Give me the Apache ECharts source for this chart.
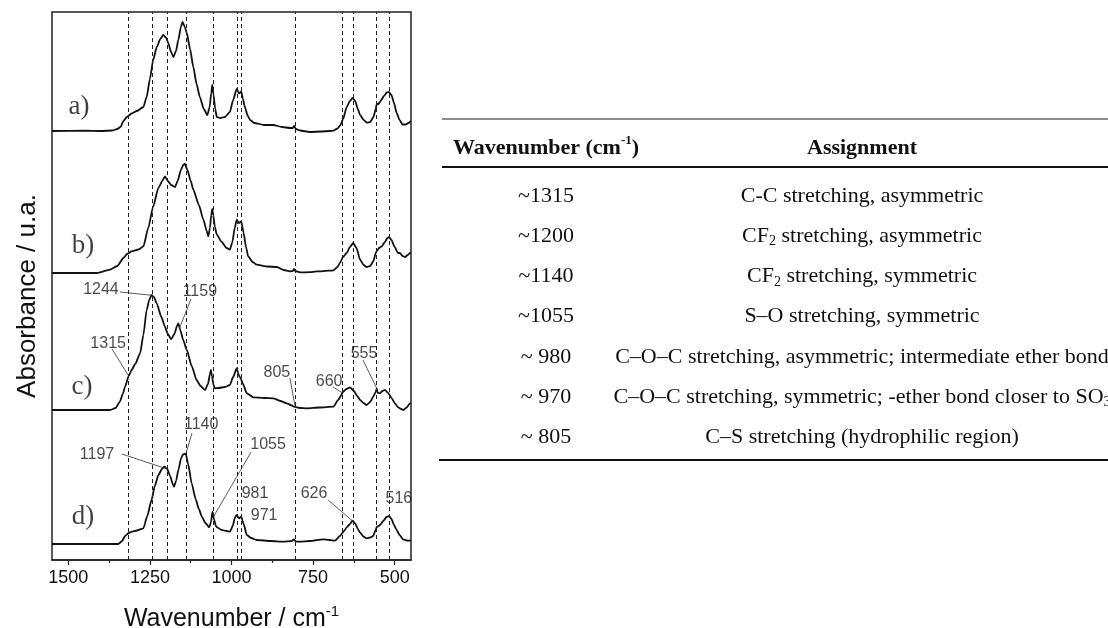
<!DOCTYPE html>
<html>
<head>
<meta charset="utf-8">
<script src="https://cdn.jsdelivr.net/npm/echarts@6/dist/echarts.min.js"></script>
<style>
  html, body { margin: 0; padding: 0; background: #fff; }
  #chart { width: 1108px; height: 628px; }
</style>
</head>
<body>
<div id="chart"></div>
<script>
// ---- FTIR spectra: [wavenumber (cm-1), absorbance above own baseline] ----
const specA = [[1550,0],[1450,0.3],[1400,0],[1365,0.5],[1350,2],[1340,4],[1331,10],[1321,14],[1306,17.5],[1290,20],[1270,24],[1260,34],[1250,52],[1240,71],[1229,84],[1218,92],[1209,96],[1200,93],[1194,88],[1185,79],[1178,74],[1170,80],[1163,91],[1155,104],[1150,109],[1143,104],[1137,98],[1127,82],[1117,64],[1107,47],[1097,34],[1085,22],[1074,16],[1067,24],[1062,38],[1059,46],[1055,36],[1050,22],[1045,14],[1035,13],[1020,14],[1005,19],[995,31],[984,42],[977,37.7],[970,39.3],[965,32],[959,24],[950,15],[943,11],[930,8],[900,6],[872,6],[845,4],[820,3],[812,3],[808,5],[803,2],[790,0.5],[760,-1],[725,-0.5],[700,0],[688,0.3],[675,2.5],[666,6],[658,12],[647,24],[637,30],[629,33],[621,30],[613,22],[606,16],[595,11],[585,8.3],[575,9],[565,14],[558,22],[555,27],[550,27],[543,30],[533,35],[524,38.5],[518,39],[510,36],[502,28],[494,18],[485,11],[476,6.5],[466,6.5],[458,8],[450,10]];

const specB = [[1550,0],[1413,0],[1372,3.3],[1350,7],[1331,15],[1320,19],[1306,21.6],[1285,23.5],[1270,26.6],[1255,45],[1240,66.6],[1224,85],[1212,92],[1204,96.6],[1195,92],[1185,88],[1173,86],[1165,92],[1155,103],[1148,108],[1143,109.3],[1135,103],[1125,92],[1117,83.3],[1100,68],[1086,53.3],[1076,42],[1071,36.6],[1066,45],[1062,58],[1059,64],[1056,58],[1051,46],[1045,38.3],[1030,31],[1015,25],[1005,23.3],[998,30],[990,45],[984,53.3],[977,50],[970,51.6],[963,40],[955,25],[949,16.6],[935,11],[923,8.3],[890,6.5],[861,6],[840,3],[821,1.6],[812,2],[809,4],[805,2],[790,0.6],[760,0.8],[739,1.6],[700,2.3],[688,2.6],[675,6],[668,10],[658,16],[647,20],[637,26],[627,30],[617,25],[606,13.3],[595,8],[586,6],[575,7],[565,12],[558,20],[555,22],[548,25],[540,26.6],[530,31],[522,35],[517,36],[510,33],[500,26],[490,20],[484,20],[476,17],[468,16],[460,18],[453,20],[450,20]];

const specC = [[1550,0],[1372,0],[1355,2],[1342,8.3],[1333,16],[1326,23.3],[1315,34],[1306,40],[1295,46],[1280,56.7],[1270,75],[1260,100],[1252,110],[1245,115],[1238,113],[1229,106.7],[1215,93],[1204,83.3],[1195,76],[1185,70.7],[1175,76],[1167,84],[1163,86.7],[1157,80],[1148,70],[1137,60],[1122,44],[1107,30],[1095,24],[1081,20],[1072,26],[1066,36],[1063,40],[1060,34],[1055,25],[1051,21.7],[1040,22],[1020,23],[1005,25],[995,33],[984,41.7],[978,35],[972,31.7],[965,26],[953,16.7],[933,12.7],[900,12],[872,11.7],[850,9],[831,6.7],[815,4.5],[809,3.3],[790,2],[770,1.7],[730,2.5],[688,3.3],[673,10],[665,14],[658,18.3],[648,21],[637,22.7],[625,19],[615,14],[606,10],[596,7],[586,5],[575,8],[566,13.3],[558,18],[555,21.7],[552,17],[545,16.7],[538,19],[530,20],[520,17],[509,11.7],[498,6],[489,2.7],[480,1],[474,0],[465,2],[453,6.7],[450,7]];

const specD = [[1550,0],[1347,0],[1335,3],[1326,8],[1315,11],[1306,12.3],[1290,13.5],[1270,15.7],[1258,28],[1245,44],[1235,58],[1224,69],[1213,75],[1206,77.3],[1197,75],[1188,68],[1180,60],[1176,57.3],[1170,63],[1162,75],[1155,85],[1150,89],[1145,90],[1140,90],[1133,80],[1122,60.7],[1110,45],[1100,35],[1091,27.3],[1080,21],[1068,16.7],[1063,22],[1058,32.3],[1053,24],[1048,18],[1044,16.7],[1030,14],[1015,13],[1005,12.3],[996,18],[990,26],[984,29],[977,25.7],[970,27.3],[963,20],[953,9],[940,6],[923,4],[880,3],[841,2.3],[815,3],[809,4.7],[803,2.5],[790,2.3],[760,3],[719,4.7],[700,4],[683,3.3],[668,8],[655,13],[647,16.7],[637,20],[629,23.3],[620,20],[613,15],[606,11.3],[596,7.5],[586,5.7],[575,6.5],[566,8],[558,14],[555,17],[550,18],[545,19],[535,23],[525,27],[517,28],[510,25],[502,19],[494,14],[485,9],[474,4.7],[463,3.5],[453,3.3],[450,3.3]];

const spectra = [specA, specB, specC, specD];
const spectrumLabels = ['a)', 'b)', 'c)', 'd)'];
const stackOffsets = [429, 287, 150, 16];          // vertical shift of each trace

// band positions marked by dashed guides (cm-1)
const peakMarks = [1315, 1244, 1197, 1140, 1055, 981, 971, 805, 660, 626, 555, 516];

// x axis ticks
const xTicks = [1500, 1250, 1000, 750, 500];
const xMinorTicks = [1375, 1125, 875, 625];

// peak annotations: value, trace index
const peakNotes = [
  { v: 1244, trace: 2 }, { v: 1159, trace: 2 }, { v: 1315, trace: 2 },
  { v: 805, trace: 2 }, { v: 660, trace: 2 }, { v: 555, trace: 2 },
  { v: 1140, trace: 3 }, { v: 1055, trace: 3 }, { v: 1197, trace: 3 },
  { v: 981, trace: 3 }, { v: 971, trace: 3 }, { v: 626, trace: 3 }, { v: 516, trace: 3 }
];

// table of band assignments ("_n" marks a subscript digit)
const bandPositions = ['~1315', '~1200', '~1140', '~1055', '~ 980', '~ 970', '~ 805'];
const bandAssignments = [
  'C-C stretching, asymmetric',
  'CF_2 stretching, asymmetric',
  'CF_2 stretching, symmetric',
  'S\u2013O stretching, symmetric',
  'C\u2013O\u2013C stretching, asymmetric; intermediate ether bond',
  'C\u2013O\u2013C stretching, symmetric; -ether bond closer to SO_3',
  'C\u2013S stretching (hydrophilic region)'
];

// ---- layout (plot coordinates of labels and leader starts) ----
const noteLayout = {
  1244: { at: [1400, 270], from: [1342, 268] },
  1159: { at: [1097, 268], from: [1124, 261] },
  1315: { at: [1378, 216], from: [1366, 211] },
  805:  { at: [861, 187],  from: [821, 182] },
  660:  { at: [701, 178],  from: [689, 173] },
  555:  { at: [594, 206],  from: [597, 200] },
  1140: { at: [1093, 135], from: [1121, 127] },
  1055: { at: [888, 115],  from: [940, 108] },
  1197: { at: [1412, 105], from: [1336, 106] },
  981:  { at: [928, 66] },
  971:  { at: [900, 44] },
  626:  { at: [747, 66],   from: [704, 60] },
  516:  { at: [487, 61] }
};
const tagAnchors = [[1467, 453], [1455, 314], [1458, 173], [1455, 43]];

function valueAt(spec, w) {
  for (let i = 0; i < spec.length - 1; i++) {
    const [w1, a1] = spec[i], [w2, a2] = spec[i + 1];
    if (w <= w1 && w >= w2) {
      return w1 === w2 ? a1 : a1 + (a2 - a1) * (w1 - w) / (w1 - w2);
    }
  }
  return 0;
}

const sansFont = 'Liberation Sans, Arial, sans-serif';
const serifFont = 'Liberation Serif, Times New Roman, serif';

const traceSeries = spectra.map((spec, i) => ({
  type: 'line',
  name: spectrumLabels[i],
  data: spec.map(([w, a]) => [w, a + stackOffsets[i]]),
  showSymbol: false,
  smooth: 0.2,
  smoothMonotone: 'x',
  lineStyle: { color: '#111', width: 1.8 },
  silent: true,
  z: 3
}));

traceSeries[3].markLine = {
  silent: true,
  symbol: ['none', 'none'],
  label: { show: false },
  lineStyle: { type: [4, 3], color: '#222', width: 1 },
  data: peakMarks.map(v => ({ xAxis: v }))
};

const leaderSeries = {
  type: 'lines',
  coordinateSystem: 'cartesian2d',
  silent: true,
  lineStyle: { color: '#333', width: 0.8, opacity: 1 },
  data: peakNotes.filter(n => noteLayout[n.v].from).map(n => ({
    coords: [noteLayout[n.v].from,
             [n.v, valueAt(spectra[n.trace], n.v) + stackOffsets[n.trace]]]
  })),
  z: 4
};

const noteSeries = {
  type: 'scatter',
  silent: true,
  symbolSize: 1,
  itemStyle: { color: 'rgba(0,0,0,0)' },
  label: {
    show: true, position: 'inside', formatter: p => p.name,
    fontFamily: sansFont, fontSize: 16, color: '#1a1a1a'
  },
  data: peakNotes.map(n => ({ name: String(n.v), value: noteLayout[n.v].at })),
  z: 5
};

const tagSeries = {
  type: 'scatter',
  silent: true,
  symbolSize: 1,
  itemStyle: { color: 'rgba(0,0,0,0)' },
  label: {
    show: true, position: 'inside', formatter: p => p.name,
    fontFamily: serifFont, fontSize: 27, color: '#111'
  },
  data: spectrumLabels.map((t, i) => ({ name: t, value: tagAnchors[i] })),
  z: 5
};

// ---- table drawn as graphic elements ----
function richSub(text) {
  return '{r|' + text.replace(/_(\d)/g, '}{s|$1}{r|') + '}';
}
const tableFontSize = 22;
const col1X = 546, col2X = 862, rowTop = 196, rowStep = 40.2;
const tableGraphics = [
  { type: 'line', shape: { x1: 442, y1: 119, x2: 1108, y2: 119 }, style: { stroke: '#666', lineWidth: 1.3 } },
  { type: 'line', shape: { x1: 442, y1: 167, x2: 1108, y2: 167 }, style: { stroke: '#111', lineWidth: 2 } },
  { type: 'line', shape: { x1: 439, y1: 460, x2: 1108, y2: 460 }, style: { stroke: '#111', lineWidth: 2 } },
  {
    type: 'text', x: col1X, y: 148,
    style: {
      text: '{h|Wavenumber (cm}{hs|-1}{h|)}',
      align: 'center', verticalAlign: 'middle', textAlign: 'center', textVerticalAlign: 'middle',
      rich: {
        h: { fontFamily: serifFont, fontWeight: 'bold', fontSize: tableFontSize, fill: '#111', color: '#111', lineHeight: 27 },
        hs: { fontFamily: serifFont, fontWeight: 'bold', fontSize: 13, fill: '#111', color: '#111', verticalAlign: 'top', lineHeight: 13 }
      }
    }
  },
  {
    type: 'text', x: col2X, y: 148,
    style: {
      text: 'Assignment', fontFamily: serifFont, fontWeight: 'bold', fontSize: tableFontSize,
      fill: '#111', align: 'center', verticalAlign: 'middle', textAlign: 'center', textVerticalAlign: 'middle'
    }
  }
];
bandPositions.forEach((p, i) => {
  const y = rowTop + i * rowStep;
  tableGraphics.push({
    type: 'text', x: col1X, y: y,
    style: {
      text: p, fontFamily: serifFont, fontSize: tableFontSize, fill: '#111',
      align: 'center', verticalAlign: 'middle', textAlign: 'center', textVerticalAlign: 'middle'
    }
  });
  tableGraphics.push({
    type: 'text', x: col2X, y: y,
    style: {
      text: richSub(bandAssignments[i]),
      align: 'center', verticalAlign: 'middle', textAlign: 'center', textVerticalAlign: 'middle',
      rich: {
        r: { fontFamily: serifFont, fontSize: tableFontSize, fill: '#111', color: '#111', lineHeight: 25 },
        s: { fontFamily: serifFont, fontSize: 14, fill: '#111', color: '#111', verticalAlign: 'bottom', lineHeight: 18 }
      }
    }
  });
});

// y axis title
tableGraphics.push({
  type: 'text', x: 28, y: 296, rotation: Math.PI / 2,
  style: {
    text: 'Absorbance / u.a.', fontFamily: sansFont, fontSize: 26, fill: '#111',
    align: 'center', verticalAlign: 'middle', textAlign: 'center', textVerticalAlign: 'middle'
  }
});

const chart = echarts.init(document.getElementById('chart'), null, { renderer: 'canvas' });
chart.setOption({
  animation: false,
  backgroundColor: '#fff',
  grid: {
    left: 52, right: 697, top: 12, bottom: 68,
    outerBoundsMode: 'none', containLabel: false,
    show: true, borderColor: '#222', borderWidth: 1.5, backgroundColor: 'transparent'
  },
  xAxis: [
    {
      type: 'value', inverse: true, min: 450, max: 1550, position: 'bottom',
      name: '{m|Wavenumber / cm}{sup|-1}',
      nameLocation: 'middle', nameGap: 44,
      nameTextStyle: {
        rich: {
          m: { fontFamily: sansFont, fontSize: 25, color: '#111', lineHeight: 30 },
          sup: { fontFamily: sansFont, fontSize: 15, color: '#111', verticalAlign: 'top', lineHeight: 15 }
        }
      },
      axisLine: { show: true, lineStyle: { color: '#222', width: 1.5 } },
      axisTick: { show: true, inside: false, length: 5, customValues: xTicks, lineStyle: { color: '#222', width: 1.2 } },
      axisLabel: {
        show: true, customValues: xTicks, margin: 9, formatter: v => String(v),
        fontFamily: sansFont, fontSize: 18, color: '#111'
      },
      splitLine: { show: false }
    },
    {
      type: 'value', inverse: true, min: 450, max: 1550, position: 'bottom', offset: 0,
      axisLine: { show: false },
      axisTick: { show: true, inside: false, length: 3, customValues: xMinorTicks, lineStyle: { color: '#222', width: 1.2 } },
      axisLabel: { show: false },
      splitLine: { show: false }
    }
  ],
  yAxis: { type: 'value', min: 0, max: 548, show: false },
  series: [...traceSeries, leaderSeries, noteSeries, tagSeries],
  graphic: tableGraphics
});
</script>
</body>
</html>
